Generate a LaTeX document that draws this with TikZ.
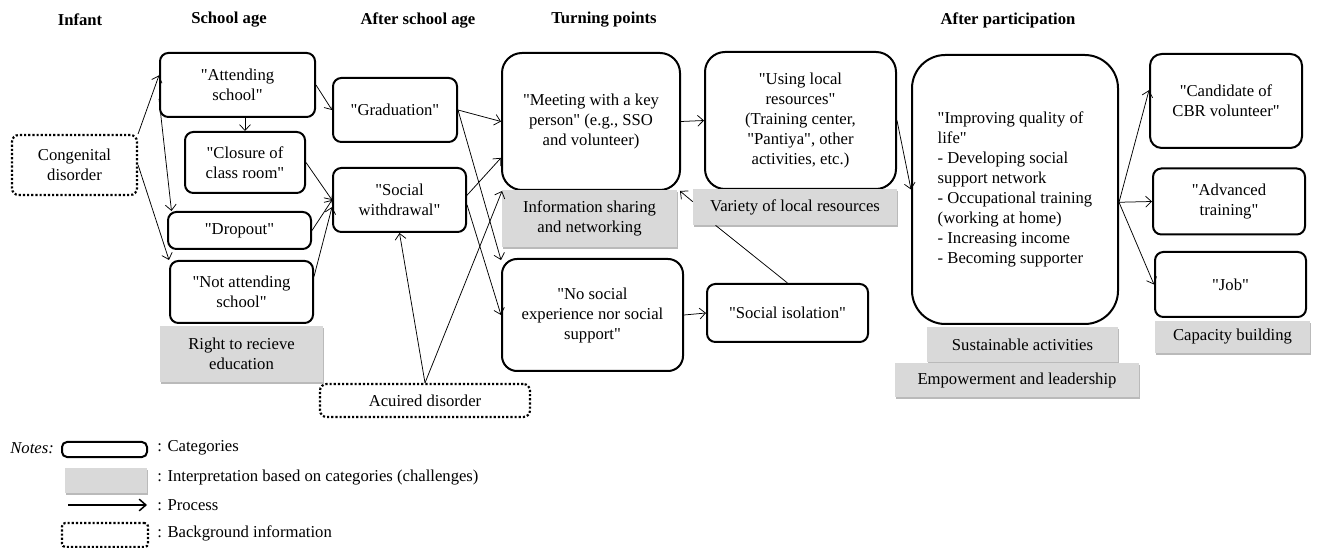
\documentclass[tikz,border=0pt]{standalone}
\usepackage{fontspec}
\setmainfont{Liberation Serif}[Ligatures=TeXOff]
\usetikzlibrary{arrows.meta,shadows}

\tikzset{
  sz/.style 2 args={minimum width=#1*0.6pt, minimum height=#2*0.6pt},
  catbox/.style={draw, line width=1.2pt, rounded corners=5pt, align=center, inner sep=0pt},
  interpbox/.style={fill=black!15, drop shadow={shadow xshift=0.5pt, shadow yshift=-1pt, fill=black!45, opacity=0.6}, align=center, inner sep=0pt},
  bgbox/.style={draw, line width=1.3pt, dash pattern=on 1.3pt off 1.2pt, rounded corners=4pt, align=center, inner sep=0pt},
  process/.style={-{Straight Barb[length=3.5pt,width=6.5pt]}, line width=0.45pt},
  stage/.style={font=\fontsize{10}{12}\selectfont\bfseries},
  notetext/.style={anchor=west, inner sep=0pt}
}

\begin{document}
\begin{tikzpicture}[x=0.6pt,y=-0.6pt,font=\fontsize{10}{12}\selectfont]

\useasboundingbox (0,0) rectangle (1322,548);


\node[stage] (StageInfant) at (80,20) {Infant};
\node[stage] (StageSchool) at (229,20) {School age};
\node[stage] (StageAfterSchool) at (418,20) {After school age};
\node[stage] (StageTurning) at (604,20) {Turning points};
\node[stage] (StageAfterPart) at (1008,20) {After participation};



\node[bgbox,sz={125}{60}] (Congenital) at (74.5,165) {Congenital\\disorder};

\node[catbox,sz={155}{64}] (Attending) at (237.5,85) {"Attending\\school"};
\node[catbox,sz={120}{61}] (Closure) at (245,162.5) {"Closure of\\class room"};
\node[catbox,sz={143}{37}] (Dropout) at (239.5,230.5) {"Dropout"};
\node[catbox,sz={143}{62}] (NotAttending) at (241.5,292) {"Not attending\\school"};
 \node[interpbox,sz={163}{56}] (RightEdu) at (241.5,354) {Right to recieve\\education};

\node[catbox,sz={124}{64}] (Graduation) at (395,110) {"Graduation"};
\node[catbox,sz={133}{64}] (Withdrawal) at (399.5,200) {"Social\\withdrawal"};
\node[bgbox,sz={210}{33}] (Acquired) at (425,400.5) {Acuired disorder};

\node[catbox,rounded corners=12pt,sz={178}{137}] (KeyPerson) at (591,121.5) {"Meeting with a key\\person" (e.g., SSO\\and volunteer)};
 \node[interpbox,sz={175}{57}] (InfoSharing) at (589.5,218.5) {Information sharing\\and networking};
\node[catbox,rounded corners=9pt,sz={181}{112}] (NoSocial) at (592.5,315) {"No social\\experience nor social\\support"};

\node[catbox,rounded corners=12pt,sz={191}{137}] (LocalRes) at (800.5,120.5) {"Using local\\resources"\\(Training center,\\"Pantiya", other\\activities, etc.)};
 \node[interpbox,sz={204}{36}] (VarietyRes) at (795,207) {Variety of local resources};
\node[catbox,sz={161}{58}] (Isolation) at (787.5,313) {"Social isolation"};

\node[catbox,rounded corners=20pt,align=left,sz={206}{269}] (Improving) at (1015,189.5) {"Improving quality of\\life"\\- Developing social\\support network\\- Occupational training\\(working at home)\\- Increasing income\\- Becoming supporter};
 \node[interpbox,sz={191}{35}] (Sustainable) at (1022.5,344.5) {Sustainable activities};
 \node[interpbox,sz={244}{34}] (Empowerment) at (1017,380) {Empowerment and leadership};

\node[catbox,rounded corners=7pt,sz={152}{94}] (Candidate) at (1226,101) {"Candidate of\\CBR volunteer"};
\node[catbox,sz={152}{66}] (Advanced) at (1229,201.5) {"Advanced\\training"};
\node[catbox,sz={151}{65}] (Job) at (1230.5,284.5) {"Job"};
 \node[interpbox,sz={155}{32}] (Capacity) at (1232.5,337) {Capacity building};



\draw[process] (Congenital.north east) -- (Attending.173);
\draw[process] (Congenital.east) -- (NotAttending.north west);
\draw[process] (Attending.190) -- (Dropout.164);
\draw[process] (Closure.north |- Attending.south) -- (Closure.north);
\draw[process] (Attending.east) -- (Graduation.west);

\draw[process] (Closure.east) -- (Withdrawal.west);
\draw[process] (Dropout.east) -- (Withdrawal.west);
\draw[process] (NotAttending.12) -- (Withdrawal.186);

\draw[process] (Graduation.east) -- (KeyPerson.west);
\draw[process] (Graduation.east) -- (NoSocial.149);
\draw[process] (Withdrawal.4) -- (KeyPerson.202);
\draw[process] (Withdrawal.356) -- (NoSocial.west);

\draw[process] (Acquired.north) -- (Withdrawal.south);
\draw[process] (Acquired.north) -- (KeyPerson.218);

\draw[process] (KeyPerson.east) -- (LocalRes.west);
\draw[process] (VarietyRes.177) -- (KeyPerson.322);
\draw[line width=0.45pt] (Isolation.north) -- (VarietyRes.193);
\draw[process] (NoSocial.east) -- (Isolation.west);

\draw[process] (LocalRes.east) -- (Improving.west);
\draw[process] (Improving.353) -- (Candidate.172);
\draw[process] (Improving.353) -- (Advanced.west);
\draw[process] (Improving.353) -- (Job.west);



\node[anchor=west,inner sep=0pt,font=\fontsize{10}{12}\selectfont\itshape] (Notes) at (10,448) {Notes:};

\node[catbox,rounded corners=3pt,sz={85}{15}] (KeyCat) at (104.5,449.5) {};
\node[notetext] (KeyCatText) at (157,448) {: Categories};

\node[interpbox,sz={82}{25}] (KeyInterp) at (106,480.5) {};
\node[notetext] (KeyInterpText) at (157,478) {: Interpretation based on categories (challenges)};

\coordinate (KeyArrowA) at (68,505);
\coordinate (KeyArrowB) at (147,505);
\draw[-{Straight Barb[length=4pt,width=7pt]},line width=0.9pt] (KeyArrowA) -- (KeyArrowB);
\node[notetext] (KeyProcText) at (157,505) {: Process};

\node[bgbox,rounded corners=2pt,sz={86}{24}] (KeyBack) at (105,535) {};
\node[notetext] (KeyBackText) at (157,533) {: Background information};


\end{tikzpicture}
\end{document}
